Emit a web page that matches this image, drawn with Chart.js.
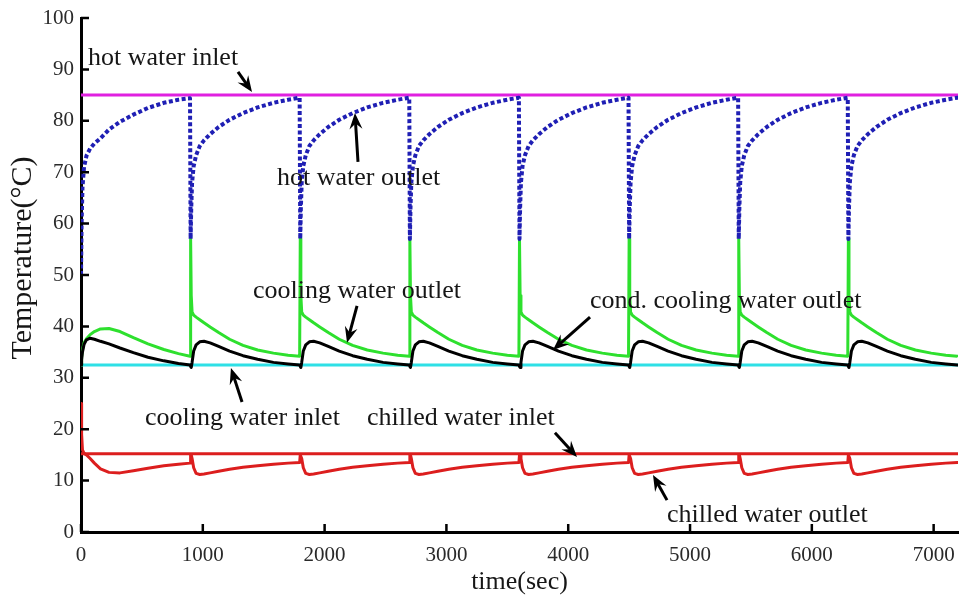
<!DOCTYPE html>
<html><head><meta charset="utf-8">
<script src="https://cdn.jsdelivr.net/npm/chart.js@4/dist/chart.umd.min.js"></script>
<style>html,body{margin:0;padding:0;background:#fff;}#wrap{width:959px;height:598px;position:relative;}</style>
</head><body><div id="wrap"><canvas id="c"></canvas></div>
<script>
// ---- data ----
const time = [
  0,5,12,25,45,75,110,160,230,320,430,550,680,800,895,
  900,905,912,925,945,975,1010,1060,1130,1220,1330,1450,1580,1700,1795,
  1800,1805,1812,1825,1845,1875,1910,1960,2030,2120,2230,2350,2480,2600,2695,
  2700,2705,2712,2725,2745,2775,2810,2860,2930,3020,3130,3250,3380,3500,3595,
  3600,3605,3612,3625,3645,3675,3710,3760,3830,3920,4030,4150,4280,4400,4495,
  4500,4505,4512,4525,4545,4575,4610,4660,4730,4820,4930,5050,5180,5300,5395,
  5400,5405,5412,5425,5445,5475,5510,5560,5630,5720,5830,5950,6080,6200,6295,
  6300,6305,6312,6325,6345,6375,6410,6460,6530,6620,6730,6850,6980,7100,7195,
  7200
];
const hotWaterOutlet = [
  50,60,67,71,73.2,74.6,75.6,76.6,78.3,79.8,81.2,82.5,83.5,84.1,84.4,
  57,63,68,71.2,73.3,75.1,76.2,77.4,78.8,80.2,81.5,82.6,83.5,84.1,84.5,
  57,63,68,71.2,73.3,75.1,76.2,77.4,78.8,80.2,81.5,82.6,83.5,84.1,84.5,
  57,63,68,71.2,73.3,75.1,76.2,77.4,78.8,80.2,81.5,82.6,83.5,84.1,84.5,
  57,63,68,71.2,73.3,75.1,76.2,77.4,78.8,80.2,81.5,82.6,83.5,84.1,84.5,
  57,63,68,71.2,73.3,75.1,76.2,77.4,78.8,80.2,81.5,82.6,83.5,84.1,84.5,
  57,63,68,71.2,73.3,75.1,76.2,77.4,78.8,80.2,81.5,82.6,83.5,84.1,84.5,
  57,63,68,71.2,73.3,75.1,76.2,77.4,78.8,80.2,81.5,82.6,83.5,84.1,84.5,
  84.5
];
const coolingWaterOutlet = [
  32.5,34,35.5,36.8,37.6,38.4,39.0,39.5,39.6,39.0,37.8,36.6,35.5,34.7,34.2,
  57,46,42.8,42.2,41.8,41.3,40.7,39.9,38.8,37.5,36.3,35.4,34.8,34.4,34.2,
  57,46,42.8,42.2,41.8,41.3,40.7,39.9,38.8,37.5,36.3,35.4,34.8,34.4,34.2,
  57,46,42.8,42.2,41.8,41.3,40.7,39.9,38.8,37.5,36.3,35.4,34.8,34.4,34.2,
  57,46,42.8,42.2,41.8,41.3,40.7,39.9,38.8,37.5,36.3,35.4,34.8,34.4,34.2,
  57,46,42.8,42.2,41.8,41.3,40.7,39.9,38.8,37.5,36.3,35.4,34.8,34.4,34.2,
  57,46,42.8,42.2,41.8,41.3,40.7,39.9,38.8,37.5,36.3,35.4,34.8,34.4,34.2,
  57,46,42.8,42.2,41.8,41.3,40.7,39.9,38.8,37.5,36.3,35.4,34.8,34.4,34.2,
  34.1
];
const condCoolingWaterOutlet = [
  32.5,33.5,35.0,36.5,37.4,37.7,37.5,37.1,36.6,35.8,34.9,34.0,33.3,32.8,32.5,
  32.2,32.0,33.0,35.2,36.4,37.0,37.1,36.8,36.1,35.2,34.3,33.6,33.0,32.7,32.5,
  32.2,32.0,33.0,35.2,36.4,37.0,37.1,36.8,36.1,35.2,34.3,33.6,33.0,32.7,32.5,
  32.2,32.0,33.0,35.2,36.4,37.0,37.1,36.8,36.1,35.2,34.3,33.6,33.0,32.7,32.5,
  32.2,32.0,33.0,35.2,36.4,37.0,37.1,36.8,36.1,35.2,34.3,33.6,33.0,32.7,32.5,
  32.2,32.0,33.0,35.2,36.4,37.0,37.1,36.8,36.1,35.2,34.3,33.6,33.0,32.7,32.5,
  32.2,32.0,33.0,35.2,36.4,37.0,37.1,36.8,36.1,35.2,34.3,33.6,33.0,32.7,32.5,
  32.2,32.0,33.0,35.2,36.4,37.0,37.1,36.8,36.1,35.2,34.3,33.6,33.0,32.7,32.5,
  32.5
];
const chilledWaterOutlet = [
  25,19,16,15.3,15.0,14.3,13.4,12.3,11.6,11.5,11.9,12.4,12.9,13.2,13.4,
  15.0,15.0,14.3,12.5,11.4,11.2,11.3,11.5,11.8,12.2,12.6,12.9,13.2,13.4,13.5,
  15.0,15.0,14.3,12.5,11.4,11.2,11.3,11.5,11.8,12.2,12.6,12.9,13.2,13.4,13.5,
  15.0,15.0,14.3,12.5,11.4,11.2,11.3,11.5,11.8,12.2,12.6,12.9,13.2,13.4,13.5,
  15.0,15.0,14.3,12.5,11.4,11.2,11.3,11.5,11.8,12.2,12.6,12.9,13.2,13.4,13.5,
  15.0,15.0,14.3,12.5,11.4,11.2,11.3,11.5,11.8,12.2,12.6,12.9,13.2,13.4,13.5,
  15.0,15.0,14.3,12.5,11.4,11.2,11.3,11.5,11.8,12.2,12.6,12.9,13.2,13.4,13.5,
  15.0,15.0,14.3,12.5,11.4,11.2,11.3,11.5,11.8,12.2,12.6,12.9,13.2,13.4,13.5,
  13.5
];
const constTime = [0, 7200];
const hotWaterInlet = [85, 85];
const coolingWaterInlet = [32.5, 32.5];
const chilledWaterInlet = [15.2, 15.2];

const xTickValues = [0,1000,2000,3000,4000,5000,6000,7000];
const yTickValues = [0,10,20,30,40,50,60,70,80,90,100];
const xTitle = 'time(sec)';
const yTitle = 'Temperature(\u00B0C)';

// annotation texts (left, baseline) and arrows (tail -> head), in data units
const noteLabels = [
  {text:'hot water inlet', t:57, v:90.9},
  {text:'hot water outlet', t:1609, v:67.5},
  {text:'cooling water outlet', t:1412, v:45.5},
  {text:'cond. cooling water outlet', t:4179, v:43.6},
  {text:'cooling water inlet', t:525, v:20.8},
  {text:'chilled water inlet', t:2348, v:20.8},
  {text:'chilled water outlet', t:4811, v:1.9}
];
const noteArrows = [
  {t0:1289, v0:89.5, t1:1404, v1:85.6},
  {t0:2274, v0:72.0, t1:2249, v1:81.5},
  {t0:2266, v0:44.0, t1:2184, v1:36.8},
  {t0:4179, v0:41.8, t1:3875, v1:35.4},
  {t0:1322, v0:25.3, t1:1231, v1:31.9},
  {t0:3891, v0:19.3, t1:4072, v1:14.6},
  {t0:4811, v0:6.2, t1:4696, v1:11.1}
];

// ---- chart ----
const SERIF = "'Liberation Serif','Times New Roman',serif";
Chart.defaults.font.family = SERIF;
const pts = (xs, ys) => xs.map((x, i) => ({x, y: ys[i]}));
const base = {pointRadius:0, tension:0, fill:false, borderJoinStyle:'round'};

const decor = {
  id: 'decor',
  afterDraw(chart) {
    const ctx = chart.ctx, xs = chart.scales.x, ys = chart.scales.y;
    const ca = chart.chartArea;
    ctx.save();
    // inward tick marks
    ctx.strokeStyle = '#000'; ctx.lineWidth = 2.5; ctx.lineCap = 'butt';
    ctx.beginPath();
    yTickValues.forEach(v => { const p = ys.getPixelForValue(v); ctx.moveTo(ca.left, p); ctx.lineTo(ca.left + 8, p); });
    xTickValues.forEach(v => { const p = xs.getPixelForValue(v); ctx.moveTo(p, ca.bottom); ctx.lineTo(p, ca.bottom - 8); });
    ctx.stroke();
    // annotation texts
    ctx.fillStyle = '#161616';
    ctx.font = '26px ' + SERIF;
    ctx.textAlign = 'left'; ctx.textBaseline = 'alphabetic';
    noteLabels.forEach(l => ctx.fillText(l.text, xs.getPixelForValue(l.t), ys.getPixelForValue(l.v)));
    // arrows
    ctx.strokeStyle = '#000'; ctx.fillStyle = '#000'; ctx.lineWidth = 3;
    noteArrows.forEach(a => {
      const x0 = xs.getPixelForValue(a.t0), y0 = ys.getPixelForValue(a.v0);
      const x1 = xs.getPixelForValue(a.t1), y1 = ys.getPixelForValue(a.v1);
      const ang = Math.atan2(y1 - y0, x1 - x0), L = 16, W = 6.5;
      const c = Math.cos(ang), s = Math.sin(ang);
      const bx = x1 - L * c, by = y1 - L * s;
      ctx.beginPath(); ctx.moveTo(x0, y0); ctx.lineTo(x1 - 8 * c, y1 - 8 * s); ctx.stroke();
      ctx.beginPath();
      ctx.moveTo(x1, y1);
      ctx.lineTo(bx + W * s, by - W * c);
      ctx.lineTo(x1 - 0.65 * L * c, y1 - 0.65 * L * s);
      ctx.lineTo(bx - W * s, by + W * c);
      ctx.closePath(); ctx.fill();
    });
    // axis titles
    ctx.fillStyle = '#161616';
    ctx.font = '26px ' + SERIF;
    ctx.textAlign = 'center'; ctx.textBaseline = 'alphabetic';
    ctx.fillText(xTitle, (ca.left + ca.right) / 2, 589);
    ctx.font = '30px ' + SERIF;
    ctx.translate(31, 258); ctx.rotate(-Math.PI / 2);
    ctx.fillText(yTitle, 0, 0);
    ctx.restore();
  }
};

new Chart(document.getElementById('c'), {
  type: 'line',
  data: {
    datasets: [
      {...base, label:'hot water outlet', data: pts(time, hotWaterOutlet), borderColor:'#1f1fb4', borderWidth:4, borderDash:[4,2.5]},
      {...base, label:'hot water inlet', data: pts(constTime, hotWaterInlet), borderColor:'#e020e0', borderWidth:3},
      {...base, label:'cond. cooling water outlet', data: pts(time, condCoolingWaterOutlet), borderColor:'#000000', borderWidth:3},
      {...base, label:'cooling water outlet', data: pts(time, coolingWaterOutlet), borderColor:'#2ee02e', borderWidth:3},
      {...base, label:'cooling water inlet', data: pts(constTime, coolingWaterInlet), borderColor:'#2ee0e6', borderWidth:3},
      {...base, label:'chilled water outlet', data: pts(time, chilledWaterOutlet), borderColor:'#dc1e1e', borderWidth:3},
      {...base, label:'chilled water inlet', data: pts(constTime, chilledWaterInlet), borderColor:'#dc1e1e', borderWidth:3}
    ]
  },
  options: {
    responsive: true, maintainAspectRatio: false, animation: false,
    layout: {padding: {left:0, right:1, top:18, bottom:0}},
    plugins: {legend:{display:false}, tooltip:{enabled:false}},
    scales: {
      x: {
        type:'linear', min:0, max:7200,
        afterBuildTicks: s => { s.ticks = xTickValues.map(v => ({value:v})); },
        afterFit: s => { s.height = 66; s.paddingLeft = 0; s.paddingRight = 0; },
        grid:{display:false, drawTicks:false},
        border:{display:true, color:'#000', width:3},
        ticks:{padding:11, color:'#2a2a2a', font:{size:21, family:SERIF}, callback: v => String(v), maxRotation:0, autoSkip:false}
      },
      y: {
        type:'linear', min:0, max:100,
        afterBuildTicks: s => { s.ticks = yTickValues.map(v => ({value:v})); },
        afterFit: s => { s.width = 81; s.paddingTop = 0; s.paddingBottom = 0; },
        grid:{display:false, drawTicks:false},
        border:{display:true, color:'#000', width:3},
        ticks:{padding:7, color:'#2a2a2a', font:{size:21, family:SERIF}, callback: v => String(v)}
      }
    }
  },
  plugins: [decor]
});
</script>
</body></html>
